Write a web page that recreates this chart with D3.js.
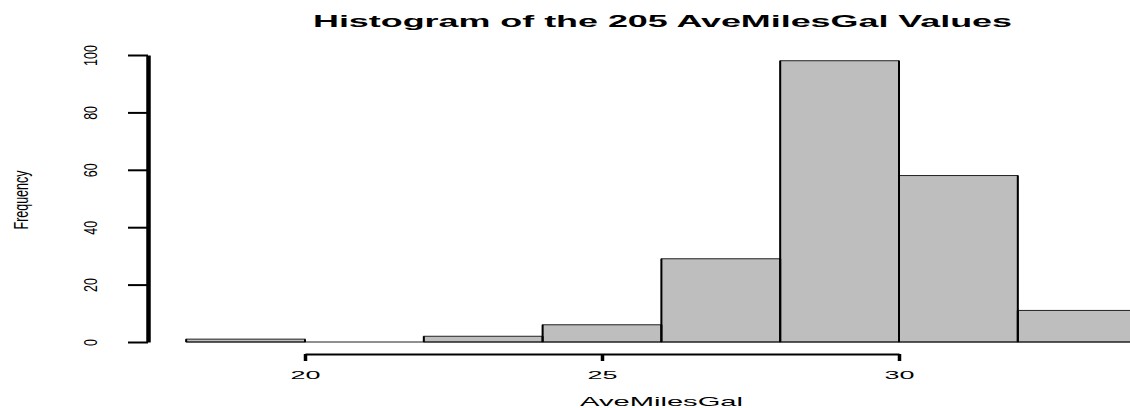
<!DOCTYPE html>
<html>
<head>
<meta charset="utf-8">
<script src="https://cdn.jsdelivr.net/npm/d3@7"></script>
<style>
  html, body { margin: 0; padding: 0; background: #fff; }
  svg { display: block; }
  text { font-family: "Liberation Sans", Arial, Helvetica, sans-serif; fill: #000; }
</style>
</head>
<body>
<svg id="chart" width="1130" height="408"></svg>
<script>
// ---- data ----
const binStarts = [18, 20, 22, 24, 26, 28, 30, 32];
const binEnds   = [20, 22, 24, 26, 28, 30, 32, 34];
const counts    = [1, 0, 2, 6, 29, 98, 58, 11];
const xTicks    = [20, 25, 30];
const yTicks    = [0, 20, 40, 60, 80, 100];
const titleText = "Histogram of the 205 AveMilesGal Values";
const xLabel    = "AveMilesGal";
const yLabel    = "Frequency";

const bins = binStarts.map((s, i) => ({ x0: s, x1: binEnds[i], n: counts[i] }));

const svg = d3.select("#chart");
const x = d3.scaleLinear().domain([20, 30]).range([305, 899]);
const y = d3.scaleLinear().domain([0, 100]).range([342, 55]);

// ---- bars ----
const g = svg.append("g");
g.selectAll("rect.bar").data(bins).enter().append("rect")
  .attr("class", "bar")
  .attr("x", d => x(d.x0))
  .attr("y", d => y(d.n))
  .attr("width", d => x(d.x1) - x(d.x0))
  .attr("height", d => y(0) - y(d.n))
  .attr("fill", "#bebebe")
  .attr("stroke", "#222")
  .attr("stroke-width", 1);

// bottom edges (also visible for empty bins)
g.selectAll("line.base").data(bins).enter().append("line")
  .attr("x1", d => x(d.x0)).attr("x2", d => x(d.x1))
  .attr("y1", y(0)).attr("y2", y(0))
  .attr("stroke", "#222").attr("stroke-width", 1.2);

// thicker vertical edges (horizontally stretched look)
const edges = [];
bins.forEach(d => { edges.push({ xv: d.x0, n: d.n }); edges.push({ xv: d.x1, n: d.n }); });
g.selectAll("line.edge").data(edges).enter().append("line")
  .attr("x1", d => x(d.xv)).attr("x2", d => x(d.xv))
  .attr("y1", y(0)).attr("y2", d => y(d.n))
  .attr("stroke", "#000").attr("stroke-width", 2);

// ---- x axis ----
const xAxis = svg.append("g")
  .attr("transform", "translate(0,354)")
  .call(d3.axisBottom(x).tickValues(xTicks).tickSize(7).tickSizeOuter(0));
xAxis.select(".domain").attr("stroke", "#000").attr("stroke-width", 2.2);
xAxis.selectAll(".tick line").attr("stroke", "#000").attr("stroke-width", 3.5);
xAxis.selectAll(".tick text").remove();
xAxis.selectAll(".tick").append("text")
  .attr("x", 0).attr("y", 25)
  .attr("text-anchor", "middle")
  .attr("font-size", 11)
  .attr("textLength", 30)
  .attr("lengthAdjust", "spacingAndGlyphs")
  .text(d => d);

// ---- y axis ----
const yAxis = svg.append("g")
  .attr("transform", "translate(148,0)")
  .call(d3.axisLeft(y).tickValues(yTicks).tickSize(20).tickSizeOuter(0));
yAxis.select(".domain").attr("stroke", "#000").attr("stroke-width", 4.5);
yAxis.selectAll(".tick line").attr("stroke", "#000").attr("stroke-width", 2);
yAxis.selectAll(".tick text").remove();
yAxis.selectAll(".tick").append("text")
  .attr("transform", "translate(-51,0) rotate(-90) scale(1,1.5)")
  .attr("text-anchor", "middle")
  .attr("font-size", 12.5)
  .text(d => d);

// ---- labels ----
svg.append("text")
  .attr("x", 313).attr("y", 27)
  .attr("font-size", 16).attr("font-weight", "bold")
  .attr("textLength", 699).attr("lengthAdjust", "spacingAndGlyphs")
  .text(titleText);

svg.append("text")
  .attr("x", 580).attr("y", 406)
  .attr("font-size", 13)
  .attr("textLength", 163).attr("lengthAdjust", "spacingAndGlyphs")
  .text(xLabel);

svg.append("text")
  .attr("transform", "translate(28,200) rotate(-90) scale(1,1.6)")
  .attr("text-anchor", "middle")
  .attr("font-size", 12.5)
  .text(yLabel);
</script>
</body>
</html>
